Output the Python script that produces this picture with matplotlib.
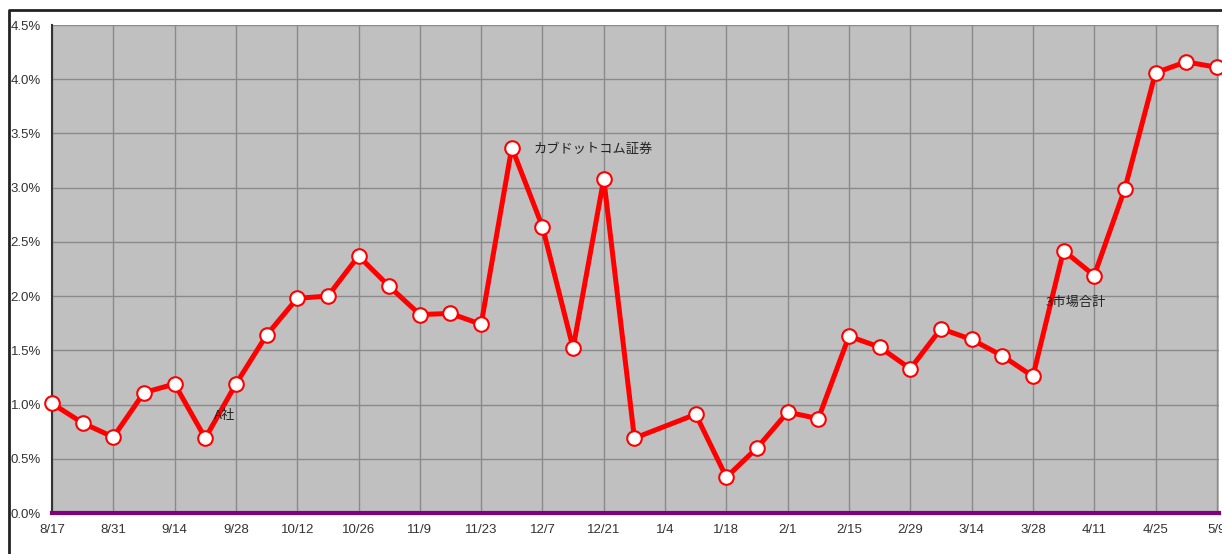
import matplotlib
matplotlib.use("Agg")
import matplotlib.pyplot as plt
from matplotlib.lines import Line2D
from datetime import datetime, timedelta

# ---- data ----
dates = ["2015-08-17", "2015-08-24", "2015-08-31", "2015-09-07", "2015-09-14",
         "2015-09-21", "2015-09-28", "2015-10-05", "2015-10-12", "2015-10-19",
         "2015-10-26", "2015-11-02", "2015-11-09", "2015-11-16", "2015-11-23",
         "2015-11-30", "2015-12-07", "2015-12-14", "2015-12-21", "2015-12-28",
         "2016-01-11", "2016-01-18", "2016-01-25", "2016-02-01", "2016-02-08",
         "2016-02-15", "2016-02-22", "2016-02-29", "2016-03-07", "2016-03-14",
         "2016-03-21", "2016-03-28", "2016-04-04", "2016-04-11", "2016-04-18",
         "2016-04-25", "2016-05-02", "2016-05-09"]
share_pct = [1.01, 0.83, 0.70, 1.11, 1.19, 0.69, 1.19, 1.64, 1.98, 2.00,
             2.37, 2.09, 1.83, 1.84, 1.74, 3.37, 2.64, 1.52, 3.08, 0.69,
             0.91, 0.33, 0.60, 0.93, 0.87, 1.63, 1.53, 1.33, 1.70, 1.60,
             1.45, 1.26, 2.42, 2.19, 2.99, 4.06, 4.16, 4.11]
xtick_dates = ["2015-08-17", "2015-08-31", "2015-09-14", "2015-09-28", "2015-10-12",
               "2015-10-26", "2015-11-09", "2015-11-23", "2015-12-07", "2015-12-21",
               "2016-01-04", "2016-01-18", "2016-02-01", "2016-02-15", "2016-02-29",
               "2016-03-14", "2016-03-28", "2016-04-11", "2016-04-25", "2016-05-09"]
xtick_labels = ["8/17", "8/31", "9/14", "9/28", "10/12", "10/26", "11/9", "11/23",
                "12/7", "12/21", "1/4", "1/18", "2/1", "2/15", "2/29", "3/14",
                "3/28", "4/11", "4/25", "5/9"]
yticks = [0.0, 0.5, 1.0, 1.5, 2.0, 2.5, 3.0, 3.5, 4.0, 4.5]
ytick_labels = ["0.0%", "0.5%", "1.0%", "1.5%", "2.0%", "2.5%", "3.0%", "3.5%", "4.0%", "4.5%"]
labels = ["A社", "カブドットコム証券", "3市場合計"]
label_dates = ["2015-09-23", "2015-12-05", "2016-03-31"]
label_vals = [0.90, 3.35, 1.94]

# ---- plot ----
W, H = 1222, 554
fig = plt.figure(figsize=(W / 100, H / 100), dpi=100)
fig.patch.set_facecolor("white")
left, right, top, bottom = 52, 1219, 25, 513
ax = fig.add_axes([left / W, 1 - bottom / H, (right - left) / W, (bottom - top) / H])
ax.set_facecolor("#c0c0c0")

x = [datetime.strptime(d, "%Y-%m-%d") for d in dates]
ax.plot(x, share_pct, color="#ff0000", lw=3.6, marker="o", ms=10.5,
        markerfacecolor="white", markeredgecolor="#ff0000", markeredgewidth=1.5,
        clip_on=False, zorder=5, solid_joinstyle="round")

xt = [datetime.strptime(d, "%Y-%m-%d") for d in xtick_dates]
ax.set_xticks(xt)
ax.set_xticklabels(xtick_labels)
ax.set_yticks(yticks)
ax.set_yticklabels(ytick_labels)
ax.set_xlim(xt[0], xt[-1] + timedelta(days=0.5))
ax.set_ylim(0, 4.5)

ax.grid(True, color="#8a8a8a", lw=1)
ax.set_axisbelow(True)
for s in ["top", "right"]:
    ax.spines[s].set_visible(False)
ax.spines["left"].set_color("#333333")
ax.spines["left"].set_linewidth(1.5)
ax.spines["bottom"].set_color("#800080")
ax.spines["bottom"].set_linewidth(3)
ax.spines["bottom"].set_zorder(6)
ax.tick_params(axis="both", length=0, labelsize=9.5, colors="#333333")
ax.tick_params(axis="x", pad=8)
ax.tick_params(axis="y", pad=8)
for t in ax.get_xticklabels() + ax.get_yticklabels():
    t.set_fontfamily("Liberation Sans")

for lab, d, v in zip(labels, label_dates, label_vals):
    ax.text(datetime.strptime(d, "%Y-%m-%d"), v, lab, fontsize=9.5, color="#222222",
            va="center", ha="left", zorder=7,
            family=["Noto Sans CJK JP", "DejaVu Sans"])

# outer frame
fig.add_artist(Line2D([9 / W, 9 / W, 1.0], [0.0, 1 - 9.5 / H, 1 - 9.5 / H],
                      transform=fig.transFigure, color="#222222", lw=2))

fig.savefig("out.png", dpi=100)
